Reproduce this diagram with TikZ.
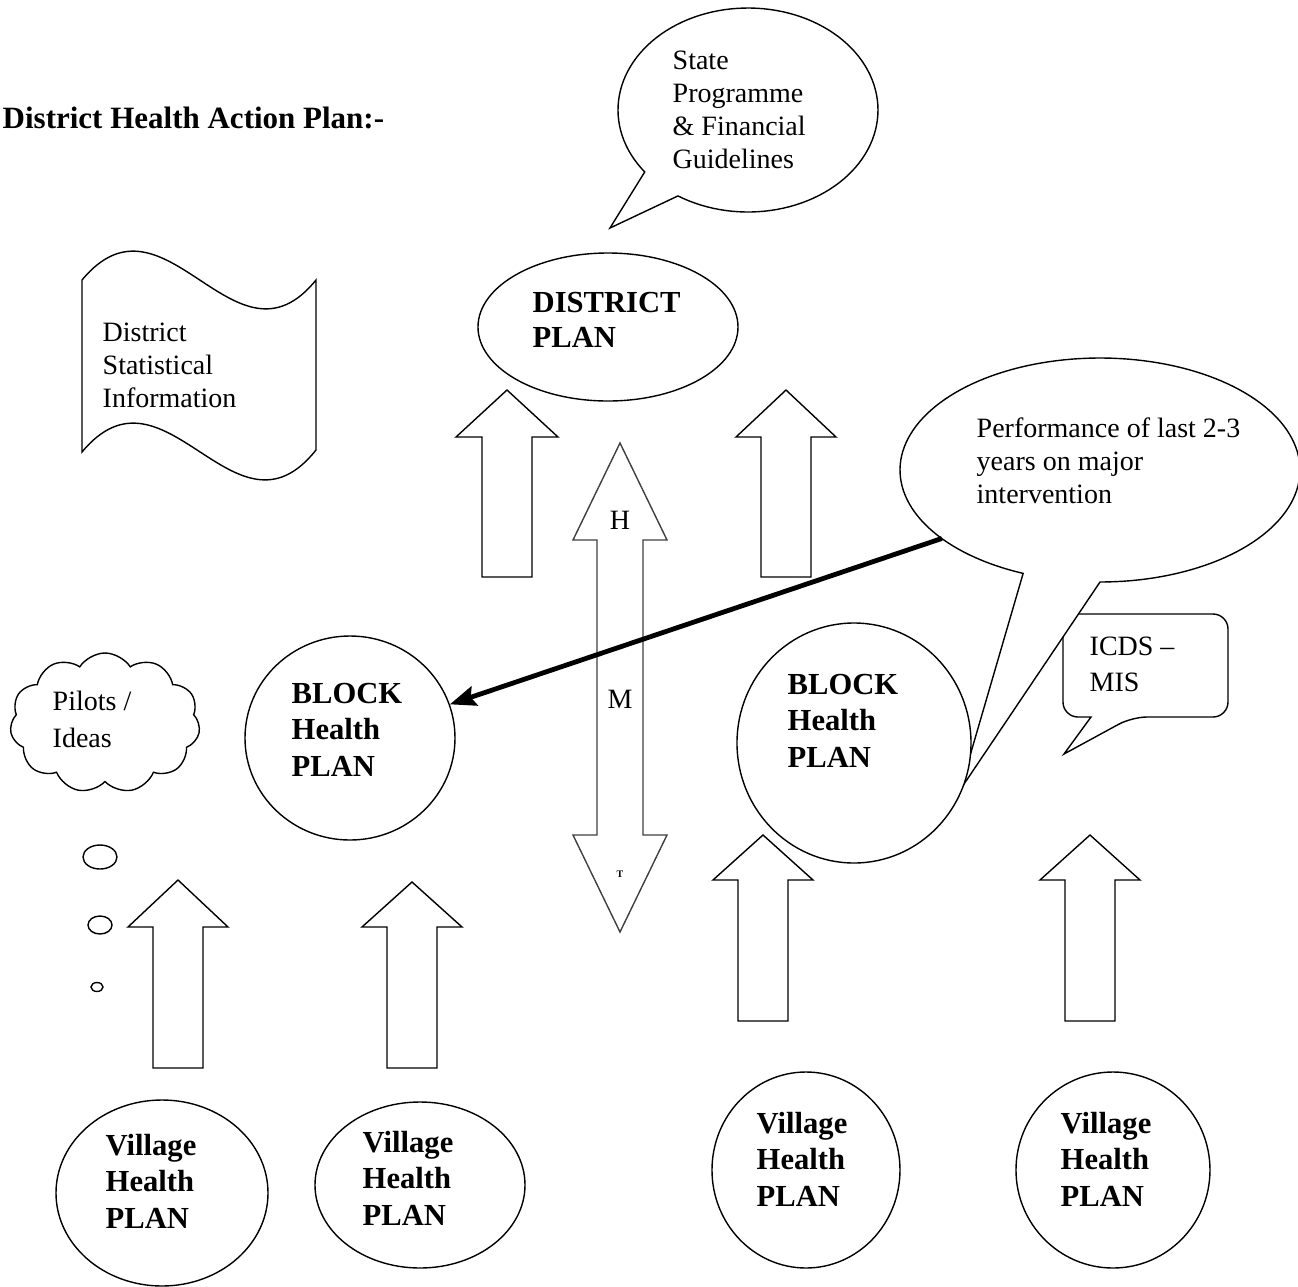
\documentclass[tikz,border=0pt]{standalone}
\usepackage{fontspec}
\setmainfont{Liberation Serif}
\usetikzlibrary{shapes.geometric,shapes.symbols,arrows.meta}
\newcommand\blockarrowup[6]{% cx, tipy, headhalf, shafthalf, basey, bottomy
  \draw[blk] (#1,#2) -- ({#1+#3},#5) -- ({#1+#4},#5) -- ({#1+#4},#6) -- ({#1-#4},#6) -- ({#1-#4},#5) -- ({#1-#3},#5) -- cycle;}
\begin{document}
\begin{tikzpicture}[x=0.5pt,y=-0.5pt,
  line width=0.7pt, line join=miter,
  txt/.style={font=\fontsize{14}{16.5}\selectfont, inner sep=0pt, anchor=base west, align=left},
  btxt/.style={font=\fontsize{15.3}{18.2}\selectfont\bfseries, inner sep=0pt, anchor=base west, align=left},
  oval/.style={draw, ellipse, inner sep=0pt, fill=white},
  blk/.style={draw, fill=white},
]
\useasboundingbox (0,0) rectangle (1298,1287);
\fill[white] (0,0) rectangle (1298,1287);

% title
\node[font=\fontsize{15.5}{18}\selectfont\bfseries, anchor=base west, inner sep=0pt] (title) at (2,128) {District Health Action Plan:-};

% state callout
\draw[fill=white] plot[domain=142.6:482.6, samples=120] ({748+130*cos(\x)}, {110+102*sin(\x)}) -- (610,228) -- cycle;
\coordinate (statetip) at (610,228);
\node[txt] (state) at (672,168) {State\\Programme\\\& Financial\\Guidelines};

% district statistical information flag
\draw[fill=white] (82,280) .. controls (165,180) and (235,380) .. (316,280) -- (316,450) .. controls (235,552) and (165,352) .. (82,452) -- cycle;
\node[txt] (stat) at (102,407) {District\\Statistical\\Information};

% district plan
\node[oval, minimum width=130pt, minimum height=74pt] (district) at (608,327) {};
\node[btxt, font=\fontsize{15.3}{17.5}\selectfont\bfseries] (districttxt) at (532,347) {DISTRICT\\PLAN};

% up arrows to district
\blockarrowup{507}{390}{51}{25}{437}{577}
\blockarrowup{786}{390}{50}{25}{437}{577}

% double arrow H M T
\draw[draw=black!75] (620,443) -- (667,540) -- (643,540) -- (643,835) -- (667,835) -- (620,932) -- (573,835) -- (597,835) -- (597,540) -- (573,540) -- cycle;
\node[font=\fontsize{14}{15}\selectfont, anchor=base, inner sep=0pt] (H) at (620,529) {H};
\node[font=\fontsize{14}{15}\selectfont, anchor=base, inner sep=0pt] (M) at (620,708) {M};
\node[font=\fontsize{5}{6}\selectfont\bfseries, anchor=base, inner sep=0pt] (T) at (620,877) {T};

% ICDS callout
\draw (1132,717) -- (1064,754) -- (1091,717) [rounded corners=7.5pt] -- (1063,717) -- (1063,614) -- (1228,614) -- (1228,717) -- cycle;
\node[txt, font=\fontsize{14}{18}\selectfont] (icds) at (1089,691) {ICDS --\\MIS};

% performance callout
\draw[fill=white] plot[domain=112.6:450, samples=150] ({1100+200*cos(\x)}, {470+112*sin(\x)}) -- (960,790) -- cycle;
\coordinate (perfpt) at ({1100+200*cos(142.3)}, {470+112*sin(142.3)});
\node[txt] (perf) at (976,503) {Performance of last 2-3\\years on major\\intervention};

% block circles
\node[oval, minimum width=105pt, minimum height=102pt] (blockL) at (350,738) {};
\node[btxt] (blockLtxt) at (291,776) {BLOCK\\Health\\PLAN};
\node[oval, minimum width=117pt, minimum height=120pt] (blockR) at (854,743) {};
\node[btxt] (blockRtxt) at (787,767) {BLOCK\\Health\\PLAN};

% pilots cloud
\node[cloud, draw, cloud puffs=11, cloud puff arc=115, aspect=1.35, minimum width=95pt, minimum height=70pt, inner sep=0pt] (pilots) at (105,723) {};
\node[txt, font=\fontsize{14}{18.5}\selectfont] (pilotstxt) at (52,747) {Pilots /\\Ideas};
\node[oval, minimum width=17pt, minimum height=12pt] (b1) at (100,857) {};
\node[oval, minimum width=12pt, minimum height=9pt] (b2) at (100,925) {};
\node[oval, minimum width=6pt, minimum height=4.5pt] (b3) at (97,987) {};

% lower arrows
\blockarrowup{178}{880}{50}{25}{927}{1068}
\blockarrowup{412}{882}{50}{25}{927}{1068}
\blockarrowup{763}{835}{50}{25}{880}{1021}
\blockarrowup{1090}{835}{50}{25}{880}{1021}

% village circles
\node[oval, minimum width=106pt, minimum height=93pt] (v1) at (162,1193) {};
\node[btxt] (v1t) at (105,1228) {Village\\Health\\PLAN};
\node[oval, minimum width=105pt, minimum height=83pt] (v2) at (420,1185) {};
\node[btxt] (v2t) at (362,1225) {Village\\Health\\PLAN};
\node[oval, minimum width=94pt, minimum height=98pt] (v3) at (806,1170) {};
\node[btxt] (v3t) at (756,1206) {Village\\Health\\PLAN};
\node[oval, minimum width=97pt, minimum height=98pt] (v4) at (1113,1170) {};
\node[btxt] (v4t) at (1060,1206) {Village\\Health\\PLAN};

% thick arrow
\draw[line width=2.4pt, -{Stealth[length=13pt,width=10pt,inset=2pt]}] (perfpt) -- (blockL);
\end{tikzpicture}
\end{document}
